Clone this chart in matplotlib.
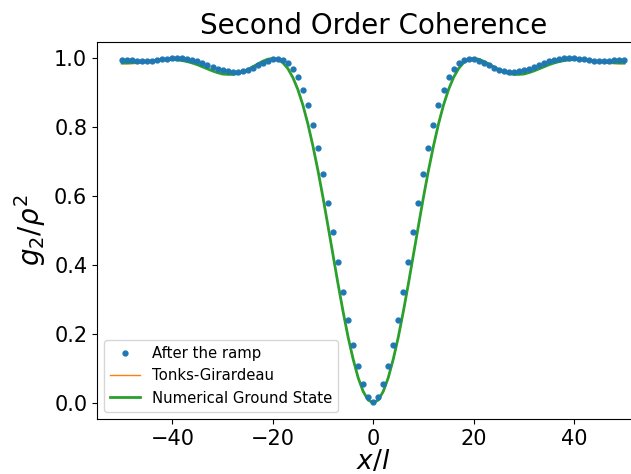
import numpy as np
import matplotlib
matplotlib.use("Agg")
import matplotlib.pyplot as plt

# positions x/l (integer grid from -50 to 50)
x_vals = np.arange(-50, 51)

# "After the ramp" (dots)
ramp_g2 = [
    0.996, 0.995, 0.994, 0.993, 0.992, 0.992, 0.993, 0.995, 0.997, 0.999,
    1.000, 1.001, 1.000, 0.998, 0.995, 0.991, 0.986, 0.981, 0.975, 0.970,
    0.965, 0.962, 0.960, 0.960, 0.962, 0.967, 0.973, 0.980, 0.987, 0.993,
    0.997, 0.997, 0.994, 0.985, 0.970, 0.945, 0.908, 0.864, 0.805, 0.740,
    0.663, 0.581, 0.495, 0.408, 0.321, 0.240, 0.167, 0.106, 0.056, 0.017,
    0.003,
    0.017, 0.056, 0.106, 0.167, 0.240, 0.321, 0.408, 0.495, 0.581, 0.663,
    0.740, 0.805, 0.864, 0.908, 0.945, 0.970, 0.985, 0.994, 0.997, 0.997,
    0.993, 0.987, 0.980, 0.973, 0.967, 0.962, 0.960, 0.960, 0.962, 0.965,
    0.970, 0.975, 0.981, 0.986, 0.991, 0.995, 0.998, 1.000, 1.001, 1.000,
    0.999, 0.997, 0.995, 0.993, 0.992, 0.992, 0.993, 0.994, 0.995, 0.996,
]

# Tonks-Girardeau (thin orange line)
tonks_g2 = [
    0.984, 0.984, 0.984, 0.985, 0.988, 0.990, 0.993, 0.996, 0.998, 0.999,
    1.000, 0.999, 0.997, 0.994, 0.989, 0.983, 0.977, 0.970, 0.964, 0.959,
    0.955, 0.953, 0.953, 0.956, 0.961, 0.968, 0.976, 0.984, 0.992, 0.998,
    1.000, 0.997, 0.988, 0.971, 0.945, 0.910, 0.865, 0.810, 0.745, 0.673,
    0.595, 0.512, 0.427, 0.343, 0.263, 0.189, 0.125, 0.072, 0.032, 0.008,
    0.000,
    0.008, 0.032, 0.072, 0.125, 0.189, 0.263, 0.343, 0.427, 0.512, 0.595,
    0.673, 0.745, 0.810, 0.865, 0.910, 0.945, 0.971, 0.988, 0.997, 1.000,
    0.998, 0.992, 0.984, 0.976, 0.968, 0.961, 0.956, 0.953, 0.953, 0.955,
    0.959, 0.964, 0.970, 0.977, 0.983, 0.989, 0.994, 0.997, 0.999, 1.000,
    0.999, 0.998, 0.996, 0.993, 0.990, 0.988, 0.985, 0.984, 0.984, 0.984,
]

# Numerical Ground State (thick green line)
numerical_g2 = [
    0.986, 0.986, 0.987, 0.988, 0.989, 0.990, 0.992, 0.994, 0.995, 0.996,
    0.996, 0.995, 0.993, 0.990, 0.986, 0.981, 0.975, 0.969, 0.963, 0.958,
    0.954, 0.953, 0.953, 0.955, 0.960, 0.967, 0.975, 0.983, 0.991, 0.997,
    0.999, 0.996, 0.987, 0.970, 0.944, 0.909, 0.864, 0.809, 0.745, 0.674,
    0.596, 0.513, 0.429, 0.345, 0.265, 0.191, 0.127, 0.073, 0.033, 0.008,
    0.000,
    0.008, 0.033, 0.073, 0.127, 0.191, 0.265, 0.345, 0.429, 0.513, 0.596,
    0.674, 0.745, 0.809, 0.864, 0.909, 0.944, 0.970, 0.987, 0.996, 0.999,
    0.997, 0.991, 0.983, 0.975, 0.967, 0.960, 0.955, 0.953, 0.953, 0.954,
    0.958, 0.963, 0.969, 0.975, 0.981, 0.986, 0.990, 0.993, 0.995, 0.996,
    0.996, 0.995, 0.994, 0.992, 0.990, 0.989, 0.988, 0.987, 0.986, 0.986,
]

series_labels = ["After the ramp", "Tonks-Girardeau", "Numerical Ground State"]

fig = plt.figure(figsize=(6.31, 4.74), dpi=100)
ax = fig.add_axes([97 / 631, 55 / 474, 552.4 / 631, 377 / 474])

ax.plot(x_vals, ramp_g2, '.', color='C0', markersize=7, label=series_labels[0], zorder=3)
ax.plot(x_vals, tonks_g2, '-', color='C1', lw=1.0, label=series_labels[1], zorder=2)
ax.plot(x_vals, numerical_g2, '-', color='C2', lw=2.0, label=series_labels[2], zorder=2)

ax.set_xlim(-55, 55)
ax.set_ylim(-0.047, 1.047)
ax.set_xticks([-40, -20, 0, 20, 40])
ax.set_yticks([0.0, 0.2, 0.4, 0.6, 0.8, 1.0])

ax.set_title("Second Order Coherence", fontsize=20)
ax.set_xlabel(r"$x/l$", fontsize=19, labelpad=0)
ax.set_ylabel(r"$g_2/\rho^2$", fontsize=20)
ax.tick_params(labelsize=15)

ax.legend(loc='lower left', fontsize=10.7)

fig.savefig("out.png", dpi=100)
